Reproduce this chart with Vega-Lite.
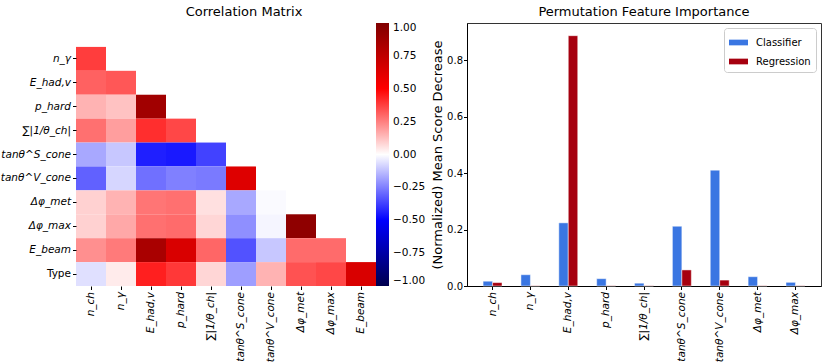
{
  "$schema": "https://vega.github.io/schema/vega-lite/v6.json",
  "background": "white",
  "padding": {"left": 0, "top": 5, "right": 0, "bottom": 0},
  "spacing": 5,
  "config": {
    "font": "DejaVu Sans",
    "axis": {"labelFont": "DejaVu Sans", "titleFont": "DejaVu Sans", "labelColor": "#000", "titleColor": "#000", "tickColor": "#000", "domainColor": "#000", "grid": false},
    "title": {"font": "DejaVu Sans", "fontWeight": "normal", "fontSize": 13, "color": "#000"},
    "legend": {"labelFont": "DejaVu Sans", "labelColor": "#000"}
  },
  "datasets": {
    "corr": [
      {"row": "n_γ", "col": "n_ch", "value": 0.38},
      {"row": "E_had,v", "col": "n_ch", "value": 0.31},
      {"row": "E_had,v", "col": "n_γ", "value": 0.33},
      {"row": "p_hard", "col": "n_ch", "value": 0.15},
      {"row": "p_hard", "col": "n_γ", "value": 0.12},
      {"row": "p_hard", "col": "E_had,v", "value": 0.87},
      {"row": "∑|1/θ_ch|", "col": "n_ch", "value": 0.28},
      {"row": "∑|1/θ_ch|", "col": "n_γ", "value": 0.19},
      {"row": "∑|1/θ_ch|", "col": "E_had,v", "value": 0.41},
      {"row": "∑|1/θ_ch|", "col": "p_hard", "value": 0.36},
      {"row": "tanθ^S_cone", "col": "n_ch", "value": -0.17},
      {"row": "tanθ^S_cone", "col": "n_γ", "value": -0.11},
      {"row": "tanθ^S_cone", "col": "E_had,v", "value": -0.44},
      {"row": "tanθ^S_cone", "col": "p_hard", "value": -0.45},
      {"row": "tanθ^S_cone", "col": "∑|1/θ_ch|", "value": -0.37},
      {"row": "tanθ^V_cone", "col": "n_ch", "value": -0.31},
      {"row": "tanθ^V_cone", "col": "n_γ", "value": -0.08},
      {"row": "tanθ^V_cone", "col": "E_had,v", "value": -0.28},
      {"row": "tanθ^V_cone", "col": "p_hard", "value": -0.25},
      {"row": "tanθ^V_cone", "col": "∑|1/θ_ch|", "value": -0.26},
      {"row": "tanθ^V_cone", "col": "tanθ^S_cone", "value": 0.63},
      {"row": "Δφ_met", "col": "n_ch", "value": 0.09},
      {"row": "Δφ_met", "col": "n_γ", "value": 0.15},
      {"row": "Δφ_met", "col": "E_had,v", "value": 0.27},
      {"row": "Δφ_met", "col": "p_hard", "value": 0.28},
      {"row": "Δφ_met", "col": "∑|1/θ_ch|", "value": 0.06},
      {"row": "Δφ_met", "col": "tanθ^S_cone", "value": -0.17},
      {"row": "Δφ_met", "col": "tanθ^V_cone", "value": -0.01},
      {"row": "Δφ_max", "col": "n_ch", "value": 0.09},
      {"row": "Δφ_max", "col": "n_γ", "value": 0.17},
      {"row": "Δφ_max", "col": "E_had,v", "value": 0.28},
      {"row": "Δφ_max", "col": "p_hard", "value": 0.29},
      {"row": "Δφ_max", "col": "∑|1/θ_ch|", "value": 0.08},
      {"row": "Δφ_max", "col": "tanθ^S_cone", "value": -0.22},
      {"row": "Δφ_max", "col": "tanθ^V_cone", "value": -0.02},
      {"row": "Δφ_max", "col": "Δφ_met", "value": 0.94},
      {"row": "E_beam", "col": "n_ch", "value": 0.22},
      {"row": "E_beam", "col": "n_γ", "value": 0.26},
      {"row": "E_beam", "col": "E_had,v", "value": 0.84},
      {"row": "E_beam", "col": "p_hard", "value": 0.65},
      {"row": "E_beam", "col": "∑|1/θ_ch|", "value": 0.30},
      {"row": "E_beam", "col": "tanθ^S_cone", "value": -0.34},
      {"row": "E_beam", "col": "tanθ^V_cone", "value": -0.11},
      {"row": "E_beam", "col": "Δφ_met", "value": 0.29},
      {"row": "E_beam", "col": "Δφ_max", "value": 0.29},
      {"row": "Type", "col": "n_ch", "value": -0.06},
      {"row": "Type", "col": "n_γ", "value": 0.04},
      {"row": "Type", "col": "E_had,v", "value": 0.44},
      {"row": "Type", "col": "p_hard", "value": 0.39},
      {"row": "Type", "col": "∑|1/θ_ch|", "value": 0.08},
      {"row": "Type", "col": "tanθ^S_cone", "value": -0.19},
      {"row": "Type", "col": "tanθ^V_cone", "value": 0.15},
      {"row": "Type", "col": "Δφ_met", "value": 0.34},
      {"row": "Type", "col": "Δφ_max", "value": 0.36},
      {"row": "Type", "col": "E_beam", "value": 0.65}
    ],
    "imp": [
      {"feature": "n_ch", "model": "Classifier", "value": 0.017},
      {"feature": "n_ch", "model": "Regression", "value": 0.012},
      {"feature": "n_γ", "model": "Classifier", "value": 0.040},
      {"feature": "n_γ", "model": "Regression", "value": 0.001},
      {"feature": "E_had,v", "model": "Classifier", "value": 0.224},
      {"feature": "E_had,v", "model": "Regression", "value": 0.888},
      {"feature": "p_hard", "model": "Classifier", "value": 0.026},
      {"feature": "p_hard", "model": "Regression", "value": 0.001},
      {"feature": "∑|1/θ_ch|", "model": "Classifier", "value": 0.010},
      {"feature": "∑|1/θ_ch|", "model": "Regression", "value": 0.001},
      {"feature": "tanθ^S_cone", "model": "Classifier", "value": 0.212},
      {"feature": "tanθ^S_cone", "model": "Regression", "value": 0.057},
      {"feature": "tanθ^V_cone", "model": "Classifier", "value": 0.411},
      {"feature": "tanθ^V_cone", "model": "Regression", "value": 0.021},
      {"feature": "Δφ_met", "model": "Classifier", "value": 0.033},
      {"feature": "Δφ_met", "model": "Regression", "value": 0.001},
      {"feature": "Δφ_max", "model": "Classifier", "value": 0.013},
      {"feature": "Δφ_max", "model": "Regression", "value": 0.001}
    ]
  },
  "hconcat": [
    {
      "data": {"name": "corr"},
      "title": {"text": "Correlation Matrix", "dx": 18, "offset": 4},
      "width": 300,
      "height": 263,
      "view": {"stroke": null},
      "mark": {"type": "rect"},
      "encoding": {
        "x": {
          "field": "col", "type": "nominal",
          "scale": {"domain": ["n_ch", "n_γ", "E_had,v", "p_hard", "∑|1/θ_ch|", "tanθ^S_cone", "tanθ^V_cone", "Δφ_met", "Δφ_max", "E_beam"], "paddingInner": 0, "paddingOuter": 0},
          "axis": {"title": null, "labelAngle": -90, "labelFontSize": 10.5, "labelFontStyle": "italic", "domain": false, "tickSize": 3.5, "labelPadding": 2}
        },
        "y": {
          "field": "row", "type": "nominal",
          "scale": {"domain": ["n_ch", "n_γ", "E_had,v", "p_hard", "∑|1/θ_ch|", "tanθ^S_cone", "tanθ^V_cone", "Δφ_met", "Δφ_max", "E_beam", "Type"], "paddingInner": 0, "paddingOuter": 0},
          "axis": {"title": null, "values": ["n_γ", "E_had,v", "p_hard", "∑|1/θ_ch|", "tanθ^S_cone", "tanθ^V_cone", "Δφ_met", "Δφ_max", "E_beam", "Type"], "labelFontSize": 10.5, "labelFontStyle": {"condition": {"test": "datum.value == 'Type'", "value": "normal"}, "value": "italic"}, "domain": false, "tickSize": 3.5, "labelPadding": 2}
        },
        "color": {
          "field": "value", "type": "quantitative",
          "scale": {"domain": [-1, -0.5, 0, 0.5, 1], "range": ["#00004d", "#0000ff", "#ffffff", "#ff0000", "#800000"], "interpolate": "rgb"},
          "legend": {"title": null, "orient": "right", "offset": 0, "padding": 0, "direction": "vertical", "gradientLength": 263, "gradientThickness": 13, "gradientStrokeWidth": 0, "values": [-1, -0.75, -0.5, -0.25, 0, 0.25, 0.5, 0.75, 1], "format": ".2f", "labelFontSize": 10.5, "labelBaseline": "middle", "labelOffset": 4}
        }
      }
    },
    {
      "data": {"name": "imp"},
      "title": {"text": "Permutation Feature Importance", "offset": 4},
      "width": 354,
      "height": 263,
      "view": {"stroke": "#333", "strokeWidth": 1},
      "mark": {"type": "bar", "stroke": "#ffffff", "strokeOpacity": 0.6, "strokeWidth": 0.8},
      "encoding": {
        "x": {
          "field": "feature", "type": "nominal",
          "scale": {"domain": ["n_ch", "n_γ", "E_had,v", "p_hard", "∑|1/θ_ch|", "tanθ^S_cone", "tanθ^V_cone", "Δφ_met", "Δφ_max"], "paddingInner": 0.5, "paddingOuter": 0.425},
          "axis": {"title": null, "labelAngle": -90, "labelFontSize": 10.5, "labelFontStyle": "italic", "tickSize": 3.5, "labelPadding": 2}
        },
        "xOffset": {"field": "model", "type": "nominal", "scale": {"domain": ["Classifier", "Regression"], "paddingInner": 0, "paddingOuter": 0}},
        "y": {
          "field": "value", "type": "quantitative",
          "scale": {"domain": [0, 0.933], "nice": false, "zero": true},
          "axis": {"title": "(Normalized) Mean Score Decrease", "titleFontSize": 13, "titleFontWeight": "normal", "values": [0, 0.2, 0.4, 0.6, 0.8], "format": ".1f", "labelFontSize": 10, "tickSize": 3.5, "labelPadding": 1, "titlePadding": 2}
        },
        "color": {
          "field": "model", "type": "nominal",
          "scale": {"domain": ["Classifier", "Regression"], "range": ["#3a76e2", "#a6000f"]},
          "legend": {"title": null, "orient": "top-right", "offset": 5, "padding": 5, "strokeColor": "#cccccc", "fillColor": "#ffffff", "cornerRadius": 3, "labelFontSize": 10, "symbolType": "M-1,-0.3H1V0.3H-1Z", "symbolSize": 361, "symbolStrokeWidth": 0, "rowPadding": 4, "labelOffset": 8}
        }
      }
    }
  ]
}
